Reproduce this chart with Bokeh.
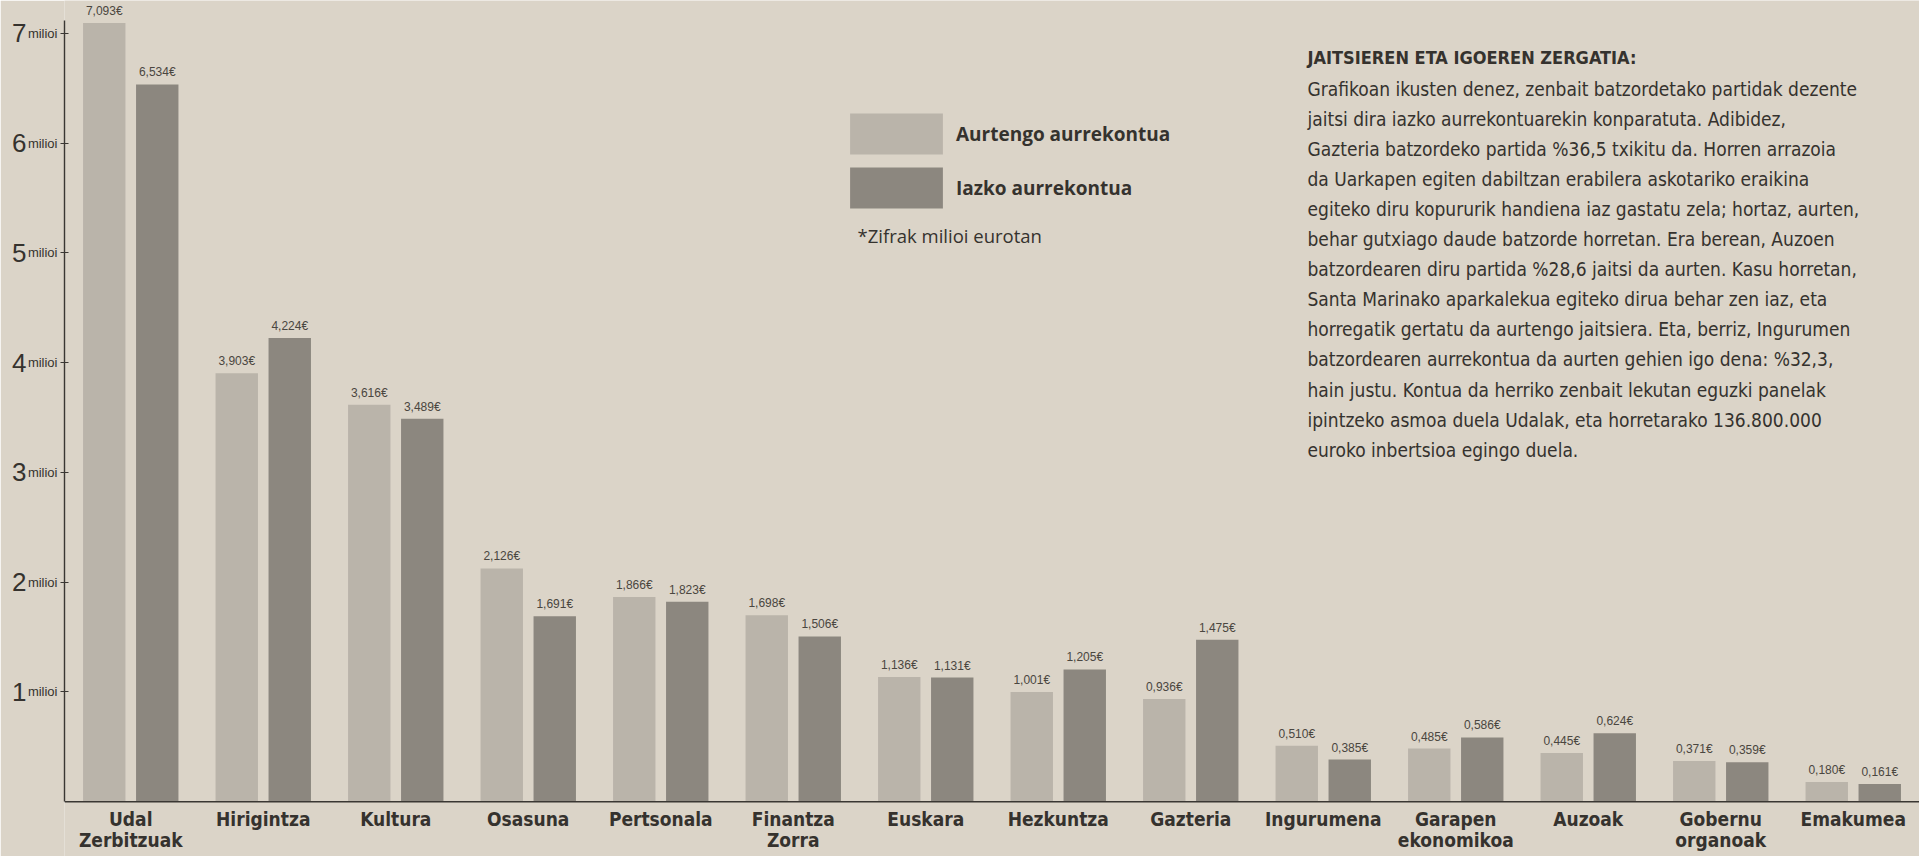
from bokeh.plotting import figure
from bokeh.models import (ColumnDataSource, FactorRange, Range1d, LinearAxis, FixedTicker,
                          LabelSet, Label, Span)
from bokeh.transform import dodge
from bokeh.core.properties import value
from bokeh.embed import file_html
from bokeh.resources import INLINE

# ---------------- data ----------------
categories = ["Udal\nZerbitzuak", "Hirigintza", "Kultura", "Osasuna", "Pertsonala",
              "Finantza\nZorra", "Euskara", "Hezkuntza", "Gazteria", "Ingurumena",
              "Garapen\nekonomikoa", "Auzoak", "Gobernu\norganoak", "Emakumea"]
aurtengo = [7.093, 3.903, 3.616, 2.126, 1.866, 1.698, 1.136, 1.001, 0.936, 0.510,
            0.485, 0.445, 0.371, 0.180]
iazko = [6.534, 4.224, 3.489, 1.691, 1.823, 1.506, 1.131, 1.205, 1.475, 0.385,
         0.586, 0.624, 0.359, 0.161]
series_names = ["Aurtengo aurrekontua", "Iazko aurrekontua"]
y_ticks = [1, 2, 3, 4, 5, 6, 7]
y_unit = "milioi"
note = "*Zifrak milioi eurotan"
title = "JAITSIEREN ETA IGOEREN ZERGATIA:"
body_lines = [
    "Grafikoan ikusten denez, zenbait batzordetako partidak dezente",
    "jaitsi dira iazko aurrekontuarekin konparatuta. Adibidez,",
    "Gazteria batzordeko partida %36,5 txikitu da. Horren arrazoia",
    "da Uarkapen egiten dabiltzan erabilera askotariko eraikina",
    "egiteko diru kopururik handiena iaz gastatu zela; hortaz, aurten,",
    "behar gutxiago daude batzorde horretan. Era  berean, Auzoen",
    "batzordearen diru partida %28,6 jaitsi da aurten. Kasu horretan,",
    "Santa Marinako aparkalekua egiteko dirua behar zen iaz, eta",
    "horregatik gertatu da aurtengo jaitsiera. Eta, berriz, Ingurumen",
    "batzordearen aurrekontua da aurten gehien igo dena: %32,3,",
    "hain justu. Kontua da herriko zenbait lekutan eguzki panelak",
    "ipintzeko asmoa duela Udalak, eta horretarako 136.800.000",
    "euroko inbertsioa egingo duela.",
]


def fmt(v):
    return f"{v:.3f}".replace(".", ",") + "€"


name_line1 = [c.split("\n")[0] for c in categories]
name_line2 = [c.split("\n")[1] if "\n" in c else "" for c in categories]

src = ColumnDataSource(dict(cat=categories, a=aurtengo, b=iazko,
                            a_lbl=[fmt(v) for v in aurtengo],
                            b_lbl=[fmt(v) for v in iazko],
                            n1=name_line1, n2=name_line2))

PAPER = "#dbd4c8"
LIGHT = "#bab4aa"
DARK = "#8c877f"
INK = "#35322e"
LINE = "#3a3733"
NARROW = "Liberation Sans Narrow, DejaVu Sans Condensed, Roboto Condensed, sans-serif"

p = figure(x_range=FactorRange(*categories, range_padding=0),
           y_range=Range1d(-0.4986, 7.299),
           width=1919, height=856, output_backend="svg", toolbar_location=None,
           min_border_left=64, min_border_right=0, min_border_top=0, min_border_bottom=0)

p.background_fill_color = PAPER
p.border_fill_color = PAPER
p.outline_line_color = None
p.xgrid.visible = False
p.ygrid.visible = False
p.xaxis.visible = False

r1 = p.vbar(x=dodge("cat", -0.2, range=p.x_range), top="a", bottom=0, width=0.32,
            source=src, fill_color=LIGHT, line_color=None, legend_label=series_names[0])
r2 = p.vbar(x=dodge("cat", 0.2, range=p.x_range), top="b", bottom=0, width=0.32,
            source=src, fill_color=DARK, line_color=None, legend_label=series_names[1])

# baseline
p.add_layout(Span(location=0, dimension="width", line_color=LINE, line_width=1.6))

for col, off in (("a", -0.2), ("b", 0.2)):
    p.add_layout(LabelSet(x=dodge("cat", off, range=p.x_range), y=col, text=col + "_lbl",
                          source=src, text_align="center", text_baseline="bottom",
                          y_offset=5, text_font_size=value("12px"),
                          text_color=value("#4a4640"), text_font=value("Liberation Sans")))

# category names under the baseline (two centred lines)
for field, off in (("n1", -6), ("n2", -27)):
    p.add_layout(LabelSet(x="cat", y=0, text=field, source=src, text_align="center",
                          text_baseline="top", y_offset=off,
                          text_font=value(NARROW), text_font_style=value("bold"),
                          text_font_size=value("19px"), text_color=value(INK)))

# y axis (inner: "milioi")
ya = p.yaxis[0]
ya.ticker = FixedTicker(ticks=y_ticks)
ya.bounds = (0, 7.12)
ya.major_label_overrides = {t: y_unit for t in y_ticks}
ya.axis_line_color = LINE
ya.axis_line_width = 1.4
ya.major_tick_in = 4
ya.major_tick_out = 4
ya.major_tick_line_color = LINE
ya.minor_tick_line_color = None
ya.major_label_standoff = 3
ya.major_label_text_font = "Liberation Sans"
ya.major_label_text_font_size = "13px"
ya.major_label_text_color = INK

# y axis (outer: big digits)
ya2 = LinearAxis(ticker=FixedTicker(ticks=y_ticks), bounds=(0, 7.12), axis_line_color=None,
                 major_tick_line_color=None, minor_tick_line_color=None,
                 major_label_standoff=-8, major_label_text_font="Liberation Sans",
                 major_label_text_font_size="26px", major_label_text_color=INK)
p.add_layout(ya2, "left")

# legend (location = bottom-left corner, px from frame bottom-left)
lg = p.legend[0]
lg.location = (774, 643)
lg.padding = 0
lg.margin = 0
lg.spacing = 3
lg.glyph_width = 116
lg.glyph_height = 51
lg.label_standoff = 2
lg.background_fill_alpha = 0
lg.border_line_color = None
lg.label_text_font = "Open Sans"
lg.label_text_font_style = "bold"
lg.label_text_font_size = "19px"
lg.label_text_color = INK

p.add_layout(Label(x=793, y=621, x_units="screen", y_units="screen", text=note,
                   text_font="Open Sans", text_font_size="18.5px", text_color=INK,
                   text_baseline="middle"))

# text block
p.add_layout(Label(x=1243, y=799, x_units="screen", y_units="screen", text=title,
                   text_font=NARROW, text_font_style="bold", text_font_size="18px",
                   text_color=INK, text_baseline="middle"))
body_src = ColumnDataSource(dict(x=[1243] * len(body_lines),
                                 y=[768 - 30.1 * i for i in range(len(body_lines))],
                                 text=body_lines))
p.add_layout(LabelSet(x="x", y="y", text="text", source=body_src, x_units="screen",
                      y_units="screen", text_baseline="middle",
                      text_font=value(NARROW), text_font_size=value("19px"),
                      text_color=value(INK)))

open("out.html", "w").write(file_html(p, INLINE))
